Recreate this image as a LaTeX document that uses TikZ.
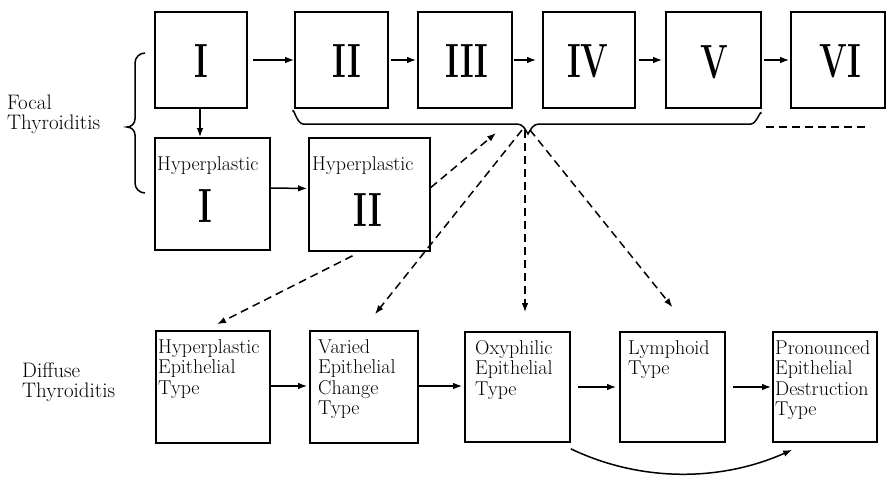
\documentclass[tikz,border=0pt]{standalone}
\usetikzlibrary{arrows.meta}
\begin{document}
\begin{tikzpicture}[x=1pt,y=-1pt,
  box/.style={draw,line width=1.6pt,inner sep=0pt},
  arr/.style={line width=1.5pt,-{Latex[length=9pt,width=6.5pt]}},
  darr/.style={arr,dash pattern=on 8pt off 5pt},
  txt/.style={inner sep=0pt,anchor=north west,align=left,font=\fontsize{20}{20.5}\selectfont},
  side/.style={inner sep=0pt,anchor=north west,align=left,font=\fontsize{21}{20}\selectfont},
  num/.style={inner sep=0pt,font=\fontsize{48}{48}\selectfont\bfseries}]
\useasboundingbox (0,0) rectangle (886,477);
\newcommand{\rn}[1]{\scalebox{0.68}[1]{#1}}

% top row of stages
\node[box,minimum width=92pt,minimum height=96pt] (s1) at (201,60) {};
\node[box,minimum width=93pt,minimum height=96pt] (s2) at (341.5,60) {};
\node[box,minimum width=94pt,minimum height=96pt] (s3) at (465,60) {};
\node[box,minimum width=92pt,minimum height=96pt] (s4) at (589,60) {};
\node[box,minimum width=95pt,minimum height=96pt] (s5) at (713.5,60) {};
\node[box,minimum width=94pt,minimum height=96pt] (s6) at (838,60) {};
\node[num] (n1) at (201.5,61) {\rn{I}};
\node[num] (n2) at (347,61) {\rn{II}};
\node[num] (n3) at (467,61) {\rn{III}};
\node[num] (n4) at (588,61) {\rn{IV}};
\node[num] (n5) at (714,62) {\rn{V}};
\node[num] (n6) at (840,61) {\rn{VI}};

% hyperplastic stages
\node[box,minimum width=115pt,minimum height=112pt] (h1) at (212.5,194) {};
\node[box,minimum width=121pt,minimum height=113pt] (h2) at (369.5,194.5) {};
\node[txt] (h1t) at (157,156) {Hyperplastic};
\node[txt] (h2t) at (312,156) {Hyperplastic};
\node[num] (h1n) at (205,206) {\rn{I}};
\node[num] (h2n) at (368,210) {\rn{II}};

% diffuse types
\node[box,minimum width=114pt,minimum height=112pt] (he) at (213,387) {};
\node[box,minimum width=108pt,minimum height=112pt] (va) at (364,387) {};
\node[box,minimum width=105pt,minimum height=110pt] (ox) at (517.5,387) {};
\node[box,minimum width=105pt,minimum height=110pt] (ly) at (672.5,387) {};
\node[box,minimum width=104pt,minimum height=110pt] (pr) at (825,387) {};
\node[txt] (het) at (158,339) {Hyperplastic\\Epithelial\\Type};
\node[txt] (vat) at (318,339) {Varied\\Epithelial\\Change\\Type};
\node[txt] (oxt) at (475,340) {Oxyphilic\\Epithelial\\Type};
\node[txt] (lyt) at (628,340) {Lymphoid\\Type};
\node[txt] (prt) at (775,340) {Pronounced\\Epithelial\\Destruction\\Type};

% side labels
\node[side] (focal) at (7,95) {Focal\\Thyroiditis};
\node[side] (diffuse) at (22,363) {Diffuse\\Thyroiditis};

% solid progressions
\draw[arr] ([xshift=5pt]s1.east) -- (s2.west);
\draw[arr] ([xshift=2pt]s2.east) -- ([xshift=-1pt]s3.west);
\draw[arr] ([xshift=1pt]s3.east) -- ([xshift=-6pt]s4.west);
\draw[arr] ([xshift=3pt]s4.east) -- ([xshift=-3pt]s5.west);
\draw[arr] ([xshift=2pt]s5.east) -- ([xshift=-1pt]s6.west);
\draw[arr] ([xshift=-1pt]s1.south) -- ([xshift=-12.5pt]h1.north);
\draw[arr] ([yshift=6pt]h1.east) -- ([yshift=6pt,xshift=-1pt]h2.west);
\draw[arr] ([yshift=1pt]he.east) -- ([xshift=-2pt,yshift=1pt]va.west);
\draw[arr] ([yshift=1pt]va.east) -- ([xshift=-2pt,yshift=1pt]ox.west);
\draw[arr] ([xshift=7pt]ox.east) -- ([xshift=-3pt]ly.west);
\draw[arr] ([xshift=7pt]ly.east) -- ([xshift=-1pt]pr.west);
\draw[arr] ([yshift=-6pt]ox.south east)
  .. controls (640,482) and (720,482) .. ([xshift=20pt,yshift=-7pt]pr.south west);

% brace grouping stages II to V
\coordinate (bt) at (528,134);
\draw[line width=1.5pt]
  (293,112) to[out=90,in=180] (303,124) -- (517,124)
  to[out=0,in=120] (bt) to[out=60,in=180] (539,124)
  -- (751,124) to[out=0,in=90] (761,114);
\draw[line width=1.5pt,dash pattern=on 8pt off 5pt] (766,127) -- (870,127);

% brace grouping focal thyroiditis
\coordinate (lt) at (127,127);
\draw[line width=1.5pt]
  (145,53) to[out=180,in=90] (135,63) -- (135,119)
  to[out=-90,in=0] (lt) to[out=0,in=90] (135,135)
  -- (135,183) to[out=-90,in=180] (145,193);

% dashed transitions
\coordinate (up) at (496,133);
\draw[darr] ([yshift=7pt]h2.east) -- (up);
\draw[darr] ([xshift=-17pt,yshift=-4pt]h2.south) -- ([xshift=4pt,yshift=6pt]he.north);
\draw[darr] ([xshift=-6pt,yshift=4pt]bt) -- ([xshift=11pt,yshift=16pt]va.north);
\draw[darr] ([xshift=-3pt,yshift=4pt]bt) -- ([xshift=7.5pt,yshift=19pt]ox.north);
\draw[darr] ([xshift=2pt,yshift=4pt]bt) -- ([yshift=24pt]ly.north);
\end{tikzpicture}
\end{document}
